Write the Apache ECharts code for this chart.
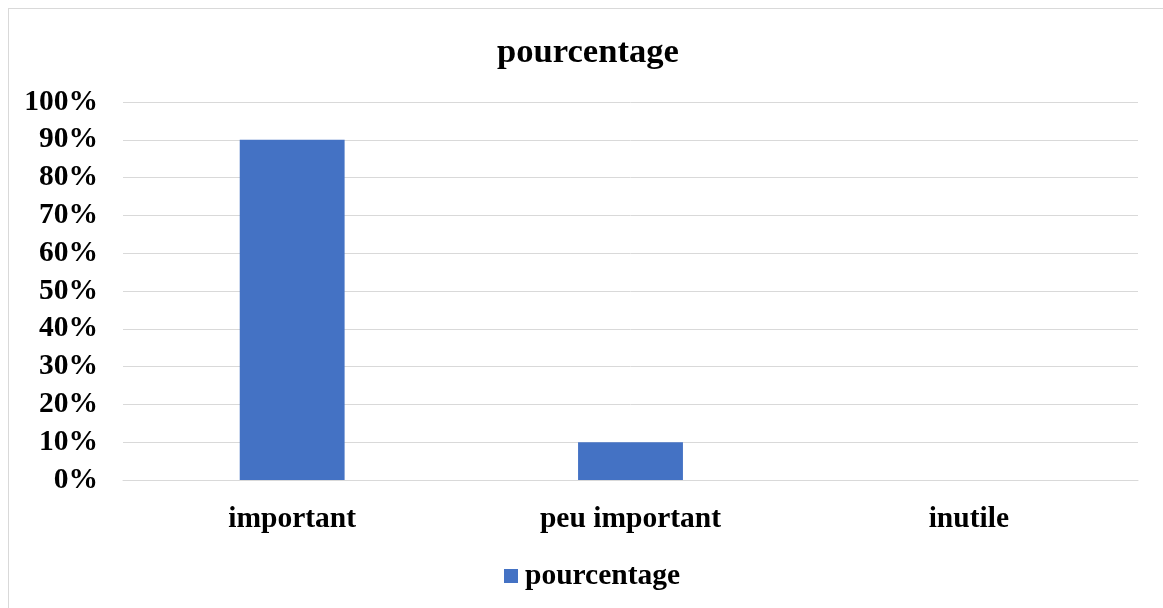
<!DOCTYPE html>
<html><head><meta charset="utf-8">
<script src="https://cdn.jsdelivr.net/npm/echarts@6/dist/echarts.min.js"></script>
<style>
html,body{margin:0;padding:0;background:#fff;}
#frame{position:absolute;left:8px;top:8px;width:1170px;height:620px;border:1px solid #d9d9d9;box-sizing:border-box;}
#chart{position:absolute;left:0;top:0;width:1163px;height:608px;}
</style></head>
<body>
<div id="frame"></div>
<div id="chart"></div>
<script>
const categories = ['important', 'peu important', 'inutile'];
const values = [90, 10, 0];
const seriesName = 'pourcentage';
const titleText = 'pourcentage';

const FONT = '"Liberation Serif", "Times New Roman", serif';
const chart = echarts.init(document.getElementById('chart'));
chart.setOption({
  backgroundColor: 'transparent',
  animation: false,
  title: {
    text: titleText, left: 492, top: 31,
    textStyle: { fontFamily: FONT, fontWeight: 'bold', fontSize: 34.6, color: '#000' }
  },
  legend: {
    data: [seriesName], left: 499, top: 556, icon: 'rect', itemWidth: 14, itemHeight: 14, itemGap: 10,
    textStyle: { fontFamily: FONT, fontWeight: 'bold', fontSize: 29.5, color: '#000', padding: [0,0,0,2] }
  },
  grid: { left: 123, right: 25, top: 102, bottom: 128, containLabel: false },
  xAxis: {
    type: 'category', data: categories,
    axisLine: { show: true, lineStyle: { color: '#d9d9d9', width: 1 } },
    axisTick: { show: false },
    axisLabel: { margin: 24, fontFamily: FONT, fontWeight: 'bold', fontSize: 29.5, color: '#000' }
  },
  yAxis: {
    type: 'value', min: 0, max: 100, interval: 10,
    axisLine: { show: false }, axisTick: { show: false },
    splitLine: { lineStyle: { color: '#d9d9d9', width: 1 } },
    axisLabel: { margin: 25, formatter: '{value}%', fontFamily: FONT, fontWeight: 'bold', fontSize: 29.5, color: '#000' }
  },
  series: [{
    name: seriesName, type: 'bar', data: values, barWidth: '31%',
    itemStyle: { color: '#4472C4' }
  }]
});
</script>
</body></html>
